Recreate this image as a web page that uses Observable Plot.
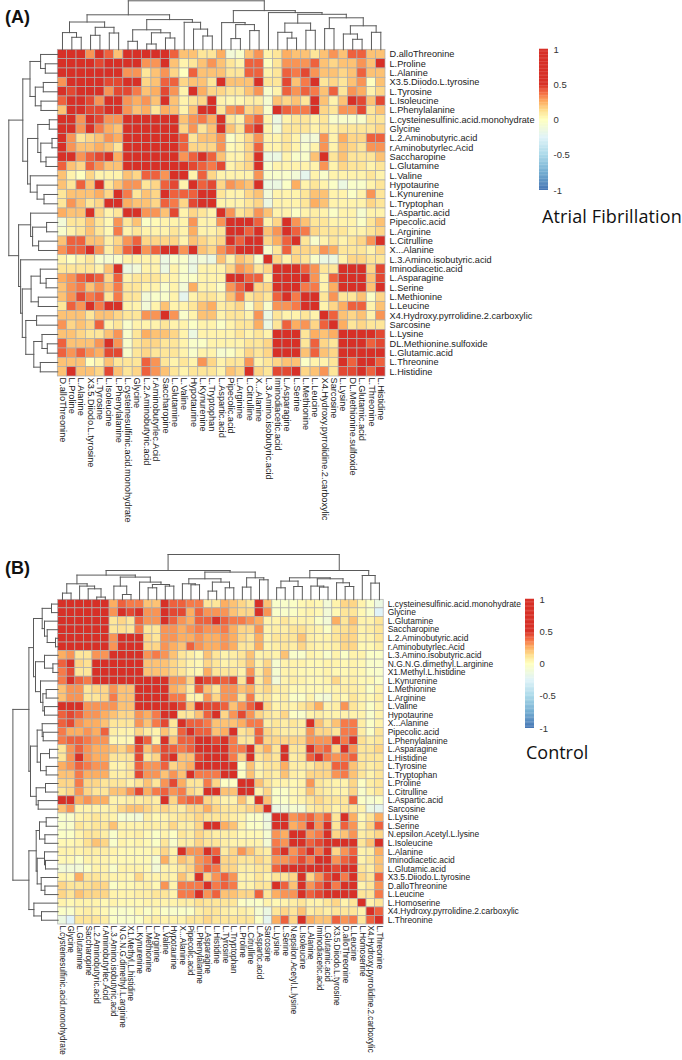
<!DOCTYPE html>
<html>
<head>
<meta charset="utf-8">
<script src="https://cdn.jsdelivr.net/npm/d3@7"></script>
<script src="https://cdn.jsdelivr.net/npm/@observablehq/plot@0.6"></script>
<style>
html,body{margin:0;padding:0;background:#fff}
#page{position:relative;width:682px;height:1060px;overflow:hidden;font-family:"Liberation Sans",Arial,sans-serif}
#page>*{position:absolute}
.tag{font-weight:bold;font-size:18px;color:#111;left:5px}
.big{font-family:"Open Sans",sans-serif;font-size:18px;color:#111;white-space:nowrap}
</style>
</head>
<body>
<div id="page"></div>
<script>
const labelsA = ["D.alloThreonine","L.Proline","L.Alanine","X3.5.Diiodo.L.tyrosine","L.Tyrosine","L.Isoleucine","L.Phenylalanine","L.cysteinesulfinic.acid.monohydrate","Glycine","L.2.Aminobutyric.acid","r.Aminobutyrlec.Acid","Saccharopine","L.Glutamine","L.Valine","Hypotaurine","L.Kynurenine","L.Tryptophan","L.Aspartic.acid","Pipecolic.acid","L.Arginine","L.Citrulline","X...Alanine","L.3.Amino.isobutyric.acid","Iminodiacetic.acid","L.Asparagine","L.Serine","L.Methionine","L.Leucine","X4.Hydroxy.pyrrolidine.2.carboxylic","Sarcosine","L.Lysine","DL.Methionine.sulfoxide","L.Glutamic.acid","L.Threonine","L.Histidine"];
const labelsB = ["L.cysteinesulfinic.acid.monohydrate","Glycine","L.Glutamine","Saccharopine","L.2.Aminobutyric.acid","r.Aminobutyrlec.Acid","L.3.Amino.isobutyric.acid","N.G.N.G.dimethyl.L.arginine","X1.Methyl.L.histidine","L.Kynurenine","L.Methionine","L.Arginine","L.Valine","Hypotaurine","X...Alanine","Pipecolic.acid","L.Phenylalanine","L.Asparagine","L.Histidine","L.Tyrosine","L.Tryptophan","L.Proline","L.Citrulline","L.Aspartic.acid","Sarcosine","L.Lysine","L.Serine","N.epsilon.Acetyl.L.lysine","L.Isoleucine","L.Alanine","Iminodiacetic.acid","L.Glutamic.acid","X3.5.Diiodo.L.tyrosine","D.alloThreonine","L.Leucine","L.Homoserine","X4.Hydroxy.pyrrolidine.2.carboxylic","L.Threonine"];

// Correlations x10, upper triangle: each row starts at its diagonal.
const corrA = [
[5,5,5,3,5,4,2,5,5,5,5,5,4,2,2,1,1,2.5,-1,-.5,2,3,.5,1,2.5,2,2,1,2,3,2,4,4,2,2],
[5,5,5,4.5,5,5,5,5,3,3,5,2,.5,1,2,3,2,1,.5,4,4,0,1,3,3,3,4,2,1.5,2,2,3,2,5],
[5,5,5,5,5,3,3,1,2,3,1.5,0,4,2,2,2,1,1,4,4,.5,1,4,3.5,4.5,3,2,2,1.5,2,4,2,2],
[5,5,4.5,4.5,5,5,1.5,2,4,4,1.5,2,2,1,5,2,2,2,5,1,1,4.5,2,3.5,5,1,1.5,1,2,3,0,2],
[5,3,4.5,4.5,3.5,2,2.5,4.5,3,.5,5,2.5,1.5,1.5,1,1,2,3,-.5,.5,4,3,4,3.5,2,4,1,3,2.5,.5,1.5],
[5,5,3,2.5,3,2,5,2,.5,1,1.5,5,.5,.3,.3,.7,.7,-.7,2,1.5,2,1,5,2,.5,2,5,4.5,2,4.5],
[5,3,2,2.5,1,2.5,2,.5,2,5,5,1,3,3.5,1.5,2,-.5,5,4,3.5,3.5,5,1.5,1,3,3,4.5,1,2],
[5,5,5,5,5,5,2,3,3.5,2.5,5,1,.5,3,4,.5,-1.5,.5,1,1,.5,1,-.5,-.5,-.5,-.5,1,1],
[5,5,5,5,5,1.5,3,1,2,5,2,1,4,5,.5,-1,1,1,1,.5,1,.5,1,1,1,1,1.5],
[5,5,5,5,4,1,2,2,3,-.3,.5,1.5,3,.5,.5,1,.5,-1,-1,3,.5,2.5,1.5,1.5,4,4],
[5,5,5,4,1.5,1.5,1.5,3,.2,.5,1.5,4,.5,.5,1,.5,-.5,.5,3,.5,2,1.5,1,3,3],
[5,5,3,4,5,4,2,.5,.5,1.5,5,-1.5,-1.5,.5,-.5,-.5,2,5,1,2,1,1,1,2],
[5,5,4.5,4,3.5,4.5,.5,1,1.5,5,-.5,.5,.5,.5,.5,.5,3,.5,1.5,1,1,.5,1],
[5,.5,4,1.5,.5,.5,.5,.5,3,-.5,-.5,-.5,-1,-2,.5,-.5,.5,.5,.5,.5,1,.5],
[5,4,4.5,1.5,3,2.5,2,5,-1.5,-1.5,-.3,2.5,.5,1,.5,-.3,-1.5,-.5,-.5,.5,1],
[5,5,1,.5,.5,1.5,2,-1,.5,.5,.5,1,2,2,.5,.5,-.3,.5,3,1],
[5,.5,.5,.5,1,1.5,-1.5,.5,.5,.5,1,2.5,2,.5,.5,.5,.5,1.5,1],
[5,3,1,1.5,3,2,.5,.5,-.2,.5,.7,.5,-.3,.5,.5,-.7,.5,.5],
[5,5,5,4,.5,1.5,5,3,2,1,1,.5,.5,.5,-.3,1,2],
[5,4,5,2,3,5,4,3.5,1.5,1,1,1,.5,.5,1,1.5],
[5,5,1.5,2.5,4,5,1,-.5,.5,1,.5,1,1.5,3,5],
[5,-.5,1,4,1.5,1.5,1.5,3,2.5,1,1,1,.5,1.5],
[5,1.5,.5,1.5,1,-.5,-1.5,-1.5,.5,1.5,1.5,1,1],
[5,5,5,4,3,1,1,5,5,5,1.5,4.5],
[5,5,5,3,.5,4,5,5,5,2,4.5],
[5,3.5,3.5,.5,2.5,5,5,5,2,5],
[5,5,1,3,1,1,2,-.3,1.5],
[5,.5,1.5,2.5,4,4,.5,2],
[5,4,2,1.5,2,.5,3],
[5,2.5,1,1.5,1,1],
[5,5,5,5,4.5],
[5,5,4,4.5],
[5,5,5],
[5,4],
[5]];

const corrB = [
[5,5,5,5,5,5,2.5,4,3.5,3.5,2,2,5,4,4,3.5,3.5,1,1,2.5,2,1.5,1,5,2,-.5,-.5,-.3,.3,.5,.3,-1,.5,1.5,1.5,.5,-.3,-1.5],
[5,5,5,5,5,3,5,4.5,5,3,3,5,4.5,4.5,2.5,4,3,3,3,2,1.5,1.5,5,3,-.5,-.5,-.3,.3,.5,.3,-1,.3,1,1,.3,-.5,-2.5],
[5,5,5,5,1,1.5,1,4,3,3,5,4,3,2.5,4,4,5,4,3.5,3.5,3,2.5,.5,.5,1,.5,.5,.5,-.3,-1,2.5,1,2,.5,.5,1],
[5,5,5,1,1.2,1,3.5,1,1,3,3,2.5,3,3.5,3,3,3.5,2.5,1.5,1.5,3,.5,.7,.7,1,1.2,.7,.5,-.3,1,1.2,1.5,.5,.7,1],
[5,5,3,5,5,5,1.5,1,3,3,2.5,2.5,3,2.5,2.5,3,2.5,1.5,1,2.5,.5,1,1,1,2,.7,.5,.5,1,1.5,1.5,.5,.5,1],
[5,3,5,5,5,1.5,1.5,3,2.5,2,4,3,2.5,2.5,3,2.5,1,1,2.5,.5,.7,1,.7,1.5,.7,.5,.5,.7,1.5,1.5,.3,.3,.7],
[5,5,5,5,3,3.5,3,2,1,.7,.3,2,1,.5,.7,1,2,.5,.7,.5,2,-.5,-.5,.5,.3,-.5,.5,-.3,.5,.5,-.3,-.3],
[5,5,5,2,2,2,1.5,1,.5,.3,1.5,1,.5,.7,1,2,.5,1.5,-.7,.5,.5,.5,.3,.3,.5,.5,.3,.5,.3,-.5,-.5],
[5,5,2,2,2,1.5,1,.5,.3,2.5,1,1,1,.5,3,.7,2,-.7,.5,.5,.3,.3,.3,.5,.3,.3,.5,.3,-.3,-.5],
[5,5,5,5,3,3,1.5,5,4.5,4.5,4,4.5,1,4.5,.7,2,-1,.5,.7,.5,.3,.3,.5,1.5,.5,.7,.3,.3,-.3],
[5,5,5,2.5,2,.8,4,2,1,3,3,2,2.5,1,1.5,.7,.7,.3,.3,.3,.3,.3,.5,.7,.7,.5,-.3,.5],
[5,5,3.5,3.5,.5,.5,3,1.5,3,3,1,3.5,.7,1,.3,.7,-.3,-.3,.5,-.7,-1,.5,.3,1,.5,.3,.7],
[5,5,4.5,2,5,4.5,4.5,4,2,3,4,5,1.5,.5,.7,.5,1,1.5,2.5,.5,.7,3,1,.5,-.3,.5],
[5,1,1,2,4,5,1.5,3,4.5,3,1.5,1,.7,1.5,-.2,-.5,.5,.7,.5,.5,.5,.5,.5,-.5,.5],
[5,4,4,3.5,2,2,2,2.5,3.5,3.5,.7,1,.7,1,.7,5,2,1,2,3.5,3.5,.7,-.3,.5],
[5,4,4,2,2.5,5,1,1.5,4,1.5,1,.7,.7,.7,3,1.5,1.5,1,3.5,3.5,.7,-.3,1],
[5,5,4.5,5,3.5,1,1,4,1.5,1.5,1.5,1.5,1.5,3,3,3,5,3.5,5,1.2,.7,1],
[5,5,5,3.5,3.5,5,1.5,2.5,1,5,1,1,5,3.5,4,1.5,5,3,1,1,1.5],
[5,5,3.5,1.5,5,1,1.5,1,5,.7,1,4,5,3.5,3,3.5,4,1,1,1],
[5,5,-.2,2,.5,1,1,2.5,.7,.7,.8,1.5,1.5,4,4,2,1,.7,1],
[5,-.2,2,.5,1,.7,2,.7,.5,1.5,1.5,1.5,3,3.5,2,1,.5,1],
[5,5,2,1,.5,.5,.3,.5,3,1,.7,.5,.5,1.5,-.2,.7,1],
[5,.5,1.5,-.3,-.3,.3,.5,2,1,.7,.5,.5,1.5,-.5,.5,1],
[5,2,-.3,-.3,.3,.5,1,1.5,1,1,1,4,-.3,-.7,-.3],
[5,-1.5,-1.2,-.7,-.9,.7,1,1,.5,1,1,.5,-1.5,-2],
[5,5,3,3.5,4,3,4,1,5,2.5,.3,1,2.5],
[5,2.5,3,5,3,5,1,4,3,.5,1.5,4],
[5,5,3,3.5,5,1.5,2,3,.7,1,1.5],
[5,4,4.5,5,5,5,5,1,2,5],
[5,3.5,5,1.5,3,4,.5,.7,2.5],
[5,5,3,4,4.5,.5,1,2],
[5,4.5,5,5,1,.7,2],
[5,3.5,5,1.5,1,4],
[5,5,.5,1,3],
[5,1,1,3.5],
[5,.5,1],
[5,4],
[5]];

// Cluster trees: [merge height, left, right]; 0 is a leaf, taken in label order.
const treeA = [49,
 [35,
  [27.8,[17.2,0,[12.5,0,0]],[22.5,[14.5,0,0],[16.8,0,0]]],
  [30.2,
   [20,[8.5,0,0],[17,[5.8,0,0],[11.8,0,0]]],
   [27.5,0,[20.7,0,[13.8,0,0]]]]],
 [39.2,
  [27.2,0,[25.2,[11.2,0,0],[19.2,0,0]]],
  [37.2,0,[35.5,
    [26.7,[17.5,0,[11.7,0,0]],[19.5,0,0]],
    [32,[21.2,0,0],[24,[15.8,0,[10.5,0,0]],[17.5,0,0]]]]]]];
const treeB = [45.3,
 [29.3,
  [24.7,
   [16,[6.7,0,0],[13.7,0,[11,0,[2.7,0,0]]]],
   [22.7,[13.7,0,[5.3,0,0]],[17.7,0,[15.3,[12,0,0],[13.7,0,0]]]]],
  [27.7,
   [21,[16,0,[15,0,0]],[17.7,[8.7,0,0],[12,0,0]]],
   [22,[12.7,0,0],[20,0,0]]]],
 [29.3,
  [22,[18.7,[12,0,0],[13.3,0,0]],[21,[13.7,0,[12.7,0,0]],[17,0,[13.3,0,0]]]],
  [24.3,0,[16.7,0,0]]]];

const legendTicks = [-1,-0.5,0,0.5,1];
const colorDomain = [-1,-.75,-.5,-.25,0,.125,.25,.375,.5,1];
const colorRange = ["#4575b4","#74add1","#abd9e9","#e0f3f8","#ffffbf","#fee090","#fdae61","#f46d43","#d73027","#d73027"];

const page = document.getElementById("page");
function place(node, left, top){ node.style.left = left+"px"; node.style.top = top+"px"; page.appendChild(node); return node; }
const colorScale = {type:"linear", domain:colorDomain, range:colorRange, interpolate:"rgb", clamp:true};

function cellsOf(rows){
  const out = [];
  rows.forEach((row,i)=>row.forEach((v,k)=>{
    const j = i+k;
    out.push({c:j,r:i,v:v/10});
    if(j!==i) out.push({c:i,r:j,v:v/10});
  }));
  return out;
}
function segmentsOf(tree){
  const segs = []; let leaf = 0;
  (function walk(n){
    if(n===0) return {p:(leaf++)+.5,h:0};
    const a = walk(n[1]), b = walk(n[2]), h = n[0];
    segs.push({p1:a.p,h1:a.h,p2:a.p,h2:h},{p1:b.p,h1:b.h,p2:b.p,h2:h},{p1:a.p,h1:h,p2:b.p,h2:h});
    return {p:(a.p+b.p)/2,h};
  })(tree);
  return segs;
}
function panel({labels,rows,tree,top,H,xL,xR,yT,yB,sizeX,sizeY}){
  const n = labels.length, cw=(xR-xL)/n, ch=(yB-yT)/n;
  const centres = d3.range(n).map(i=>i+.5);
  const name = d=>labels[Math.floor(d)];
  const segs = segmentsOf(tree);
  const dendro = {stroke:"#5a5a5a",strokeWidth:1,strokeLinecap:"square"};
  return place(Plot.plot({
    width:682,height:H,marginLeft:0,marginRight:682-xR,marginTop:0,marginBottom:H-yB,
    style:{fontFamily:'"Liberation Sans",Arial,sans-serif',background:"transparent",color:"#222"},
    x:{type:"linear",domain:[-xL/cw,n],axis:null},
    y:{type:"linear",domain:[n,-yT/ch],axis:null},
    color:colorScale,
    marks:[
      Plot.rect(cellsOf(rows),{x1:"c",x2:d=>d.c+1,y1:"r",y2:d=>d.r+1,fill:"v",stroke:"#adadad",strokeWidth:.7}),
      Plot.link(segs,{x1:"p1",x2:"p2",y1:d=>-d.h1/ch,y2:d=>-d.h2/ch,...dendro}),
      Plot.link(segs,{y1:"p1",y2:"p2",x1:d=>-d.h1/cw,x2:d=>-d.h2/cw,...dendro}),
      Plot.axisX({anchor:"bottom",ticks:centres,tickFormat:name,tickRotate:90,tickSize:0,tickPadding:1,label:null,fontSize:sizeX}),
      Plot.axisY({anchor:"right",ticks:centres,tickFormat:name,tickSize:0,tickPadding:4,label:null,fontSize:sizeY})
    ]
  }),0,top);
}
function legend({left,top,h}){
  const step = .02;
  return place(Plot.plot({
    width:50,height:h+12,marginLeft:0,marginRight:41,marginTop:6,marginBottom:6,
    style:{fontFamily:'"Liberation Sans",Arial,sans-serif',background:"transparent",color:"#333"},
    x:{axis:null,domain:[0,1]},
    y:{domain:[-1,1],axis:null},
    color:colorScale,
    marks:[
      Plot.rect(d3.range(-1,1,step),{x1:0,x2:1,y1:d=>d,y2:d=>d+step+.004,fill:d=>d+step/2}),
      Plot.axisY({anchor:"right",ticks:legendTicks,tickFormat:d=>String(d),tickSize:0,tickPadding:5,label:null,fontSize:9.5})
    ]
  }),left,top-6);
}
panel({labels:labelsA,rows:corrA,tree:treeA,top:0,H:530,xL:57.3,xR:385,yT:49.3,yB:376,sizeX:9.2,sizeY:9.2});
panel({labels:labelsB,rows:corrB,tree:treeB,top:530,H:530,xL:57.7,xR:383.2,yT:69.3,yB:394,sizeX:8.2,sizeY:8.45});
legend({left:539,top:49,h:141});
legend({left:525,top:599,h:129});

function note(cls,text,left,top,extra){
  const d = document.createElement("div"); d.className=cls; d.textContent=text;
  d.style.left=left+"px"; d.style.top=top+"px";
  if(extra) d.style.letterSpacing=extra;
  page.appendChild(d);
}
note("tag","(A)",5,7);
note("tag","(B)",5,558);
note("big","Atrial Fibrillation",542,204,"0.12px");
note("big","Control",526,740);
</script>
</body>
</html>
